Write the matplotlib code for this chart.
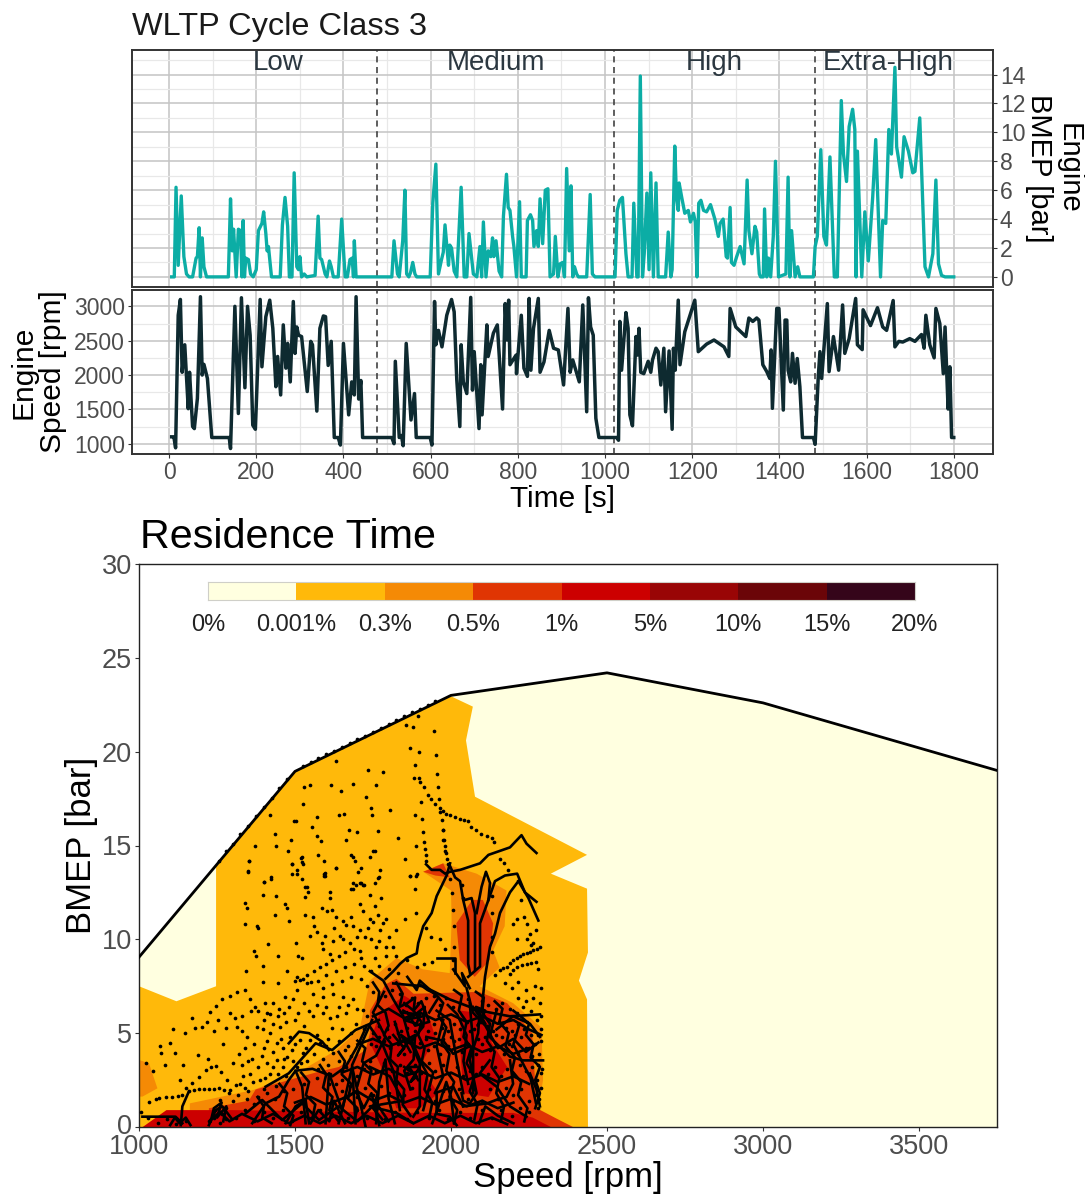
import matplotlib
matplotlib.use("Agg")
import matplotlib.pyplot as plt
from matplotlib.ticker import MultipleLocator

plt.rcParams['font.family'] = ['Liberation Sans', 'DejaVu Sans']

W, H = 1085, 1194

bmep_trace = [(6,0),(12,0),(16,6.2),(21,.8),(28,5.6),(34,1.4),(40,.2),(46,0),(54,0),(62,1.3),(65,1.4),(69,3.4),(72,0),(76,2.7),(80,.7),(86,0),(136,0),(141,5.4),(145,1.8),(148,3.3),(154,0),(159,3.3),(164,3.2),(167,0),(170,3.9),(173,0),(176,1.3),(182,1.2),(187,.2),(193,0),(200,.5),(205,3.2),(213,3.7),(217,4.5),(222,3),(225,1.8),(228,2.1),(235,0),(255,0),(260,3.6),(266,5.5),(272,3.5),(276,0),(282,0),(287,7.2),(293,.7),(297,.5),(300,1.4),(304,0),(310,.2),(316,0),(335,.1),(342,4.2),(346,1.3),(350,1.2),(358,.2),(362,0),(368,1.1),(372,.7),(377,0),(388,0),(396,4),(401,1.4),(404,0),(409,0),(415,1.2),(420,1.3),(423,0),(425,2.5),(429,0),(511,0),
(516,2.5),(524,.2),(528,0),(536,2.5),(541,6),(545,.2),(550,0),(554,.3),(559,1),(564,.2),(568,0),(599,0),(605,5.1),(612,7.8),(618,.2),(625,1.2),(629,1.7),(633,3.6),(641,.8),(644,2.2),(648,2),(654,.4),(660,0),(670,6.2),(677,0),(683,0),(688,3),(694,1.3),(698,.2),(706,0),(713,2.1),(717,0),(721,3.8),(727,0),(732,1.8),(738,1.4),(742,2.7),(745,1.4),(750,2.5),(757,.4),(763,0),(767,4.2),(774,7.1),(778,4.8),(782,4.6),(788,2.8),(791,2.1),(797,0),(804,5.2),(808,0),(819,0),(822,3.9),(829,4.3),(834,3.9),(837,2.1),(843,3.2),(847,2.1),(851,5.4),(857,2.3),(863,6),(869,6.1),(874,0),(882,.2),(886,2.8),(892,0),(897,.9),(903,1),(907,0),(912,7.5),(918,1.8),(922,6.3),(926,0),(930,.7),(935,.2),(939,0),(958,0),(966,5.7),(971,.2),(977,0),(1023,0),
(1028,4.6),(1034,5.3),(1040,5.5),(1048,1.6),(1053,0),(1062,0),(1066,5.1),(1073,0),(1076,0),(1081,13.9),(1086,0),(1090,1.6),(1096,5.8),(1101,.5),(1105,7.2),(1111,0),(1117,6.5),(1122,0),(1139,0),(1145,3.1),(1151,0),(1154,.5),(1160,9.05),(1164,5.5),(1168,4.6),(1170,6.5),(1176,5.5),(1183,4.4),(1191,4.6),(1196,3.8),(1203,4.4),(1207,3.8),(1211,0),(1215,5.1),(1220,5.3),(1226,4.6),(1233,4.5),(1242,5),(1252,4),(1260,2.8),(1264,3.7),(1271,4),(1278,1.4),(1281,1.3),(1287,4.8),(1290,1),(1296,.8),(1302,1.4),(1310,2.1),(1319,.9),(1326,6.7),(1330,3.2),(1337,1.6),(1344,3.5),(1348,3.1),(1354,.2),(1357,0),(1363,0),(1366,4.7),(1371,0),(1375,1.3),(1380,0),(1386,2.8),(1391,8),(1398,0),(1415,.2),(1420,6.9),(1424,0),(1428,3.2),(1436,0),(1442,.7),(1447,0),(1478,0),
(1482,2.1),(1487,2.8),(1495,8.8),(1502,2.8),(1508,2.2),(1516,8.3),(1526,0),(1533,0),(1542,12.2),(1547,8.5),(1554,6.6),(1560,10.4),(1568,11.6),(1573,10.2),(1576,0),(1579,8.7),(1589,0),(1596,4.5),(1604,1.1),(1614,5.5),(1621,9.5),(1632,0),(1637,3.9),(1644,3.7),(1651,10.2),(1657,8.5),(1665,14.5),(1669,9),(1680,6.9),(1686,9.7),(1696,8.7),(1706,7.2),(1711,7.3),(1722,11),(1734,.7),(1742,0),(1752,1.6),(1759,6.7),(1765,.9),(1772,.1),(1780,0),(1800,0)]

speed_trace = [(6,1100),(11,1100),(15,940),(21,2870),(26,3100),(30,2040),(36,2440),(44,1510),(47,2040),(54,1250),(58,1220),(65,1660),(72,3140),(76,2000),(80,2155),(88,1950),(98,1090),(138,1090),(141,930),(151,3000),(159,1440),(166,3125),(174,1815),(180,3000),(186,2580),(192,1270),(198,1210),(209,3100),(213,2120),(222,2850),(231,3090),(238,2680),(245,1830),(249,2270),(256,1710),(262,2730),(268,2100),(272,2460),(278,1900),(285,3070),(289,2315),(293,2700),(297,2580),(304,2560),(317,1760),(325,2490),(329,2440),(339,1475),(346,2680),(354,2860),(359,2850),(365,2140),(372,2490),(379,1090),(388,1090),(393,980),(400,2460),(412,1420),(419,1900),(425,1710),(429,3140),(435,1650),(440,1920),(444,1090),(511,1090),(516,1000),(519,2200),(528,1090),(533,1120),(537,970),(544,2460),(555,1345),(563,1730),(567,1090),(599,1090),(603,980),(609,3070),(612,2440),(618,2650),(626,2410),(637,2870),(648,3100),(654,2920),(660,1930),(667,1250),(670,2440),(675,1900),(683,1730),(692,3130),(696,1780),(700,2340),(711,1220),(715,2150),(718,1420),(729,2730),(732,2270),(744,2610),(753,2730),(765,1505),(771,3040),(775,2510),(779,3090),(782,2150),(796,2290),(797,2020),(801,2340),(808,2870),(814,2100),(822,1980),(826,3115),(830,2070),(836,2680),(847,3115),(851,2040),(860,2190),(872,2650),(882,2390),(893,2365),(905,1855),(915,2970),(920,2040),(926,2220),(941,1900),(949,3020),(958,1465),(962,3125),(967,2700),(973,2580),(979,1370),(986,1090),(1027,1090),(1031,1050),
(1034,2780),(1038,2070),(1048,2910),(1053,2680),(1057,1420),(1063,1260),(1071,2560),(1074,2290),(1078,2680),(1082,2040),(1089,2020),(1099,2200),(1105,2040),(1109,2220),(1117,2390),(1122,2340),(1128,1855),(1135,2390),(1139,1465),(1147,2350),(1154,1210),(1157,2390),(1161,2070),(1168,3090),(1172,2150),(1183,2630),(1206,3090),(1214,2340),(1233,2450),(1250,2510),(1273,2410),(1284,2270),(1287,2970),(1300,2700),(1323,2560),(1330,2830),(1339,2780),(1348,2830),(1353,2800),(1362,2150),(1371,2050),(1378,1950),(1381,2365),(1384,1515),(1394,2970),(1399,2970),(1409,1490),(1413,2800),(1417,2800),(1420,2070),(1426,1900),(1430,2315),(1436,1880),(1441,2240),(1447,1830),(1453,1090),(1478,1090),(1482,990),(1489,1950),(1493,2340),(1497,1950),(1510,3040),(1514,2050),(1524,2560),(1536,2070),(1545,3020),(1550,2315),(1560,2530),(1575,3115),(1579,2440),(1590,2370),(1592,2950),(1609,2720),(1625,2980),(1637,2700),(1646,2650),(1661,3085),(1665,2410),(1674,2490),(1683,2480),(1699,2530),(1711,2490),(1726,2590),(1732,2390),(1736,2870),(1745,2440),(1755,2250),(1759,2970),(1768,2750),(1776,2020),(1780,2700),(1787,1505),(1791,2120),(1795,1090),(1800,1090)]

phase_bounds = [476, 1021, 1482]
phase_names = ["Low", "Medium", "High", "Extra-High"]
phase_centres = [250, 750, 1250, 1650]

full_load_speed = [1000, 1500, 2000, 2500, 3000, 3750]
full_load_bmep = [9.05, 18.95, 23, 24.2, 22.6, 19]

legend_labels = ["0%", "0.001%", "0.3%", "0.5%", "1%", "5%", "10%", "15%", "20%"]
legend_colors = ["#FFFFE0", "#FFB90A", "#F58A05", "#E03503", "#CC0000", "#990505", "#6B0508", "#35051A"]

zone_cream = [(1000,0),(1000,9.05),(1500,18.95),(2000,23),(2500,24.2),(3000,22.6),(3750,19),(3750,0)]
zone_001 = [(1000,0),(1000,7.5),(1120,6.7),(1247,7.5),(1247,13.9),(1500,18.95),(2000,22.95),(2070,22.4),(2048,20.6),(2077,17.6),(2436,14.5),(2320,13.5),(2436,12.7),(2439,9.3),(2410,7.8),(2436,6.8),(2439,0)]
zone_03_a = [(1163,0),(1163,1.26),(1366,1.97),(1505,2.86),(1633,4.1),(1708,5.26),(1740,7.8),(1825,9),(1910,8.4),(1996,8.2),(2002,11),(2000,12.6),(1911,13.6),(1975,14.05),(2082,13.5),(2178,12.6),(2172,10.7),(2135,9.4),(2156,8.5),(2092,7.5),(2199,6.6),(2290,5.3),(2295,2.5),(2279,.9),(2242,0)]
zone_03_b = [(1000,3.57),(1032,3.4),(1059,2.06),(1011,1.62),(1000,1.62)]
zone_05_a = [(1224,0),(1224,1),(1352,1.4),(1374,2),(1480,2.5),(1577,2.95),(1641,3.2),(1726,4.1),(1740,5),(1740,6.2),(1790,7.6),(1825,7.9),(1880,7.1),(2090,7.2),(2180,6.6),(2260,5),(2275,1),(2338,.45),(2391,0)]
zone_05_b = [(2017,10.85),(2068,12.1),(2102,12.1),(2135,10.85),(2124,8.9),(2076,8),(2028,8.9)]
zone_05_c = [(1911,13.6),(1975,14.05),(1996,13.3),(1950,13.4)]
zone_1_band = [(1012,0),(1088,.9),(1300,.9),(1900,.75),(2200,.75),(2262,.5),(2320,0)]
zone_1_a = [(1770,6),(1850,7),(1920,6.3),(1950,4.8),(1900,3.2),(1960,1.8),(1900,1),(1825,1),(1790,2.7),(1740,4.5)]
zone_1_b = [(2030,6.2),(2130,6),(2130,4.5),(2180,3.2),(2120,1.6),(2040,1.8),(2030,4)]

dots_upper = [(1894,21.9),(1855,21.4),(1879,21.3),(1947,21.1),(1870,20.2),(1898,20),(1951,19.8),(1885,19.3),(1631,19.5),(1734,19),(1782,18.9),(1954,18.8),(1883,18.6),(1898,18.6),(1902,18.4),(1913,18.1),(1925,17.7),(1937,17.5),(1950,17.2),(1964,17),(1975,16.85),(1985,16.7),(1998,16.6),(2012,16.5),(2028,16.4),(2041,16.35),(2055,16.3),(2065,16),(2079,15.8),(2097,15.6),(2114,15.5),(2130,15.4),(2138,15.2),(1958,18.1),(1960,17.5),(1905,17.3),(1966,16.8),(1970,16.35),(1975,15.8),(1978,15.3),(1980,15),(1983,14.6),(1987,14.3),(1886,16.6),(1907,16.4),(1911,15.7),(1913,15.2),(1889,15),(1917,14.8),(1919,14.5),(1921,14.2),
(1528,18.1),(1547,18.2),(1616,18.2),(1649,17.9),(1686,18.3),(1759,18.2),(1729,17.6),(1526,17.2),(1745,17),(1806,16.9),(1569,16.5),(1641,16.6),(1656,16.7),(1747,16.6),(1421,16.6),(1498,16.3),(1503,16.3),(1553,16),(1672,15.8),(1699,15.7),(1766,15.75),(1437,15.6),(1487,15.3),(1572,15.5),(1583,15.25),(1663,15.3),(1830,15.4),(1373,15),(1440,15),(1476,14.7),(1574,14.5),(1679,14.5),(1685,14.4),(1693,14.2),(1750,14.7),(1757,14.7),(1741,14.4),(1851,14.3),(1520,14.35),(1524,14.1),(1592,14.2),(1354,14.2),(1349,13.6),(1490,14),(1489,13.5),(1506,13.7),(1632,13.8),(1711,13.8),(1702,13.6),(1772,13.7),(1593,13.5),(1593,13.4),(1869,13.4),(1891,13.5),(1768,13.3),(1423,13.3),(1401,13.05),(1524,13.2),(1538,12.8),(1686,13),(1695,12.9),(1713,13),(1721,12.9),(1756,13),(1680,12.7),(1886,12.7)]
dots_load_line = [(1255,14.2),(1280,14.7),(1300,15.1),(1325,15.6),(1350,16.05),(1375,16.55),(1400,17.05),(1425,17.55),(1450,18.05),(1475,18.55),(1525,19.25),(1550,19.45),(1575,19.65),(1600,19.85),(1625,20.05),(1650,20.25),(1675,20.45),(1700,20.65),(1725,20.85),(1750,21.05),(1775,21.25),(1800,21.5),(1825,21.7),(1850,21.9),(1875,22.1),(1900,22.3),(1925,22.5),(1950,22.7)]
dots_right = [(2157,14.3),(2170,14.05),(2184,13.7),(2223,12.1),(2234,11.2),(2242,10.8),(2253,10.3),(2274,10.5),(2264,9.8),(2210,10),(2200,10.8),(2210,11.1),(2280,8.4),(2242,10),(2258,9.7),(2285,9.6),(2264,9.45),(2242,9.25),(2221,9.1),(2200,8.9),(2178,8.55),(2157,8.35),(2141,8.1),(2274,8.8),(2242,8.7),(2210,8.55),(2189,8.15),(2173,7.65),(2275,9.5),(2253,9.35),(2232,9.2),(2210,9),(2189,8.75),(2167,8.45),(2258,8.75),(2226,8.65),(2199,8.35),(1973,15.8),(1975,15.3),(1981,14.7),(1991,14),(1997,13.2),(2002,12.45),(2007,11.55),(2010,10.7),(2011,9.6),(2007,8.9),(2034,12.9),(2037,12.2),(2130,12.3),(2132,11.4),(2133,10.1),(2130,9.3),(2290,7.4),(2270,7.5),(2240,7.3),(2215,7.7),(2195,7.4)]
dots_mid = [(1339,11.95),(1345,11.65),(1339,10.8),(1377,10.7),(1382,10.6),(1415,9.75),(1368,9.4),(1375,9.1),(1398,8.6),(1343,8.3),(1396,12.35),(1422,13.2),(1402,13.05),(1348,13.65),(1353,14.2),(1439,12.3),(1436,11.3),(1468,11.9),(1475,11.65),(1480,11),(1503,9.8),(1511,9.1),(1521,9),(1446,9.1),(1473,8.3),(1505,8),(1500,7.8),(1491,14),(1505,13.5),(1521,14.4),(1526,14),(1596,13.55),(1596,13.35),(1633,13.8),(1532,12.8),(1542,12.5),(1532,12.25),(1612,12.5),(1612,12.2),(1588,11.65),(1601,11.5),(1617,11.55),(1633,11.2),(1558,11.2),(1560,10.7),(1532,11.3),(1548,10.2),(1585,9.8),(1590,9.5),(1612,9.2),(1622,9.9),(1644,10.2),(1654,10),(1676,9.8),(1708,9.4),(1713,9),(1665,10.75),(1687,10.7),(1708,10.5),(1735,10.6),(1719,11.5),(1740,11.1),(1767,11.3),(1783,10.85),(1793,11.1),(1772,10.5),(1745,10),(1761,9.6),(1793,9.6),(1825,10.5),(1852,11.1),(1793,9.1),(1825,9.1),(1756,9),(1687,12.7),(1708,13),(1719,12.9),(1767,13.25),(1740,12.35),(1756,11.75),(1777,12.2),(1708,11.9),(1889,13.4),(1868,13.4),(1889,11.4),(1921,10.6),(1937,10.15),(1980,9.5),(1964,10),
(1570,10.4),(1595,10.2),(1625,10.6),(1655,11),(1680,11.2),(1700,10.1),(1725,10.1),(1750,10.9),(1770,9.9),(1800,10.1),(1815,9.6),(1690,9.5),(1660,9.3),(1640,9.1),(1620,8.9),(1600,8.7),(1580,8.5),(1560,8.3),(1540,8.1),(1525,7.9),(1575,7.8),(1600,8.1),(1630,8.3),(1660,8.5),(1690,8.7),(1720,8.6),(1745,8.3),(1770,8.6),(1800,8.4),(1830,8.2),(1860,8.9),(1890,8.5),(1915,8.7),(1940,8.8),(1550,7.7),(1590,7.4),(1620,7.6),(1650,7.8),(1680,8),(1710,7.9),(1730,7.5)]
dots_low = [(1110,5.2),(1147,5),(1169,5.8),(1201,5.35),(1217,5.6),(1227,6.15),(1254,5.7),(1291,7),(1339,7.3),(1313,7.2),(1265,6.8),(1247,6.45),(1355,6.8),(1382,6.2),(1371,6.4),(1403,6.6),(1430,6.6),(1446,7.65),(1398,7.75),(1452,5.35),(1468,6.95),(1494,6.8),(1505,7.3),(1516,7.85),(1537,7.65),(1558,7.1),(1590,6.95),(1622,7.1),(1654,6.95),(1687,6.8),(1719,6.25),(1558,5.9),(1590,6.05),(1612,5.8),(1665,6.05),(1697,5.5),(1291,6.05),(1307,5.8),(1313,5.35),(1345,4.8),(1377,5.35),(1398,5.2),(1420,5),(1441,4.45),(1484,4.8),(1516,4.65),(1548,4.65),(1580,4.45),(1099,4.45),(1067,4.3),(1072,3.95),(1083,3.3),(1115,3.95),(1142,3.3),(1190,3.85),(1222,3.6),(1270,4.4),(1131,2.5),(1024,3.4),(1046,3),(1361,3.65),(1382,3.2),(1409,3.4),(1420,2.85),(1334,2.7),(1323,2.3),(1355,2.85),(1388,2.5),(1291,1.95),(1259,1.45),(1243,.9),(1473,3.75),(1505,3.2),(1526,3.95),(1590,3.6),(1622,3.95),(1665,3.2),(1612,2.85),(1462,3.2),(1441,3.55),
(1330,5.9),(1360,6.2),(1420,6),(1450,6.3),(1480,6.4),(1530,6.6),(1570,6.5),(1640,6.4),(1700,6.3),(1430,5.5),(1470,5.6),(1500,5.7),(1530,5.4),(1620,5.3),(1650,5.2),(1680,5),(1730,5.9),(1340,4.2),(1370,4.4),(1400,4.2),(1430,4),(1460,4.2),(1490,4.1),(1520,3.4),(1560,3.9),(1600,4.3),(1640,3.5),(1680,3.8),(1710,4.5),(1300,3.4),(1330,3.3),(1350,1.9),(1380,1.6),(1400,2),(1440,2.2),(1470,2.7),(1300,1.4),(1280,1),(1265,.7),(1240,.5),(1225,.3),(1005,.82),(1032,1.35),(1053,1.5),(1064,1.53),(1085,1.58),(1107,1.62),(1125,1.66),(1139,1.7),(1150,2.06),(1171,2.33),(1192,2.68),(1214,3.04),(1230,3.2),(1246,3.25),(1262,2.95),(1283,2.5),(1310,2.24),(1160,1.94),(1176,1.97),(1192,2),(1208,2),(1224,2),(1240,2.05),(1256,2.1),(1272,1.95),(1288,1.8),
(1180,5.3),(1240,5.1),(1280,5.3),(1330,5.1),(1400,5.7),(1410,6.1),(1445,5.9),(1465,6.1),(1510,6.1),(1545,6.2),(1600,6.4),(1635,5.9),(1670,6.5),(1410,4.6),(1455,4.7),(1500,4.4),(1535,4.2),(1570,4.9),(1605,4.7),(1640,4.6),(1670,4.3),(1720,5.2),(1320,3.9),(1350,3.5),(1395,3.8),(1430,3.2),(1465,3.6),(1495,3.5),(1540,3.5),(1575,3.1),(1605,3.3),(1660,4.1),(1365,2.4),(1405,2.6),(1445,2.8),(1340,2.1),(1318,1.7),(1345,1.5),(1370,1.2),(1410,1.8),(1435,1.5),(1465,1.9),(1495,2),(1530,2.3),(1570,2.6),(1610,2.3),(1650,2.5)]
dots_dense = [(1750,7.2),(1770,6.9),(1790,7),(1810,7.3),(1835,7.1),(1855,6.5),(1875,6.9),(1895,6.6),(1920,6.9),(1945,7),(1965,6.5),(1985,6.9),(2005,6.4),(2030,6.6),(2055,6.8),(2075,6.3),(2100,6.7),(2120,6.5),(2145,6.3),(2165,6.6),(2190,6.3),(2210,6.1),(2230,6.4),(2255,6.2),(2275,5.7),(2290,5.2),(2280,4.9),(2290,4.6),(2270,4.4),(2255,4.9),(2235,5.2),(2215,5.5),(2195,5.1),(2175,5.3),(2155,5.6),(2135,5.1),(2115,5.4),(2095,5.6),(2075,5.2),(2050,5.6),(2030,5.2),(2010,5.5),(1990,5.1),(1970,5.3),(1945,5.5),(1925,5.1),(1905,5.4),(1885,5.1),(1860,5.3),(1840,5.1),(1820,5.5),(1795,5.2),(1770,5.4),(1750,5),
(1760,4.3),(1785,4.6),(1805,4.2),(1830,4.4),(1850,3.9),(1880,4.2),(1900,4.5),(1925,4.1),(1945,4.3),(1965,3.9),(1990,4.3),(2010,4.6),(2035,4),(2055,4.4),(2080,3.9),(2100,4.4),(2125,4.1),(2150,4.3),(2170,3.9),(2195,4.3),(2215,3.9),(2240,4.2),(2260,3.8),(2280,3.3),(2290,2.9),(2275,2.5),(2260,3.2),(2240,3),(2220,3.3),(2200,2.8),(2180,3.1),(2160,2.7),(2140,3.2),(2120,2.8),(2100,3.2),(2080,2.8),(2060,3),(2040,2.7),(2020,3.2),(1995,2.8),(1975,3.3),(1950,3),(1930,3.4),(1905,2.9),(1885,3.3),(1860,2.9),(1835,3.3),(1810,3),(1785,3.4),(1760,3),(1740,3.5),(1720,3.1),(1700,2.7),(1675,2.2),
(1650,1.9),(1630,2.3),(1700,1.6),(1725,2.1),(1750,1.7),(1775,2.2),(1800,1.8),(1825,2.3),(1850,1.7),(1875,2.1),(1900,1.6),(1930,2),(1950,1.4),(1975,1.9),(2005,1.4),(2025,2),(2055,1.5),(2075,2),(2100,1.4),(2125,2),(2150,1.5),(2175,2.1),(2200,1.7),(2225,2),(2250,1.4),(2270,1.7),(2280,1),(2250,.8),(2220,1),(2195,.6),(2160,.9),(2130,.5),(2100,.9),(2060,.5),(2030,.8),(1990,.4),(1960,.9),(1930,.5),(1890,.8),(1860,.4),(1820,.8),(1790,.4),(1760,.9),(1730,.5),(1700,.9),(1670,.5),(1640,.8),(1610,.4),(1580,.9),(1550,.5),(1520,.8),(1490,.3),(1460,.9),(1430,.5),(1400,.8),(1370,.3),(1340,.9),(1310,.5),(1280,.4),(1260,.2),(1150,.3),(1120,.15),(1090,.4),(1060,.2),(1030,.5),
(2285,6.6),(2262,6.9),(2240,6.7),(2215,6.9),(2290,5.9),(2283,3.9),(2293,3.1),(2288,2.1),(2283,1.5),(2245,5.6),(2225,4.8),(2205,4.9),(2185,4.4),(2165,4.8),(2145,4.9),(2110,4.8),(2085,4.7),(2060,5.1),(2025,4.7),(2000,4.8),(1975,4.7),(1950,5),(1920,4.7),(1875,4.7),(1830,5),(1800,4.8),(1770,4.8),(1745,4.4)]

traces = [
 [(1920,14),(1938,13.7),(1965,13.7),(1981,13.5),(1997,13.6),(2029,13.7),(2093,14.05),(2120,14.5),(2189,14.9),(2226,15.55),(2242,15.1),(2274,14.6)],
 [(1997,14.05),(1986,13.4),(1954,12.3),(1938,11.4),(1911,10.7),(1895,9.8),(1890,9.25),(1858,9),(1837,8.7),(1815,8.3),(1790,7.9)],
 [(1997,13.9),(2013,13.3),(2029,13.1),(2039,12.1),(2055,11),(2055,8.7),(2061,8.2)],
 [(2045,12.1),(2066,12.2),(2077,11.4),(2077,8.7),(2077,8.4)],
 [(2082,11.4),(2098,12.8),(2112,13.6),(2125,13),(2120,12.1),(2093,10.85),(2093,8.55),(2055,8)],
 [(2120,12.1),(2141,13.1),(2173,13.4),(2212,13.5),(2237,12.5),(2274,12)],
 [(2216,13.1),(2189,12.5),(2157,11.4),(2141,10.3),(2125,9.6),(2109,8),(2098,6.2)],
 [(2216,13.1),(2248,12.2),(2264,11.6),(2280,11)],
 [(1954,9),(2013,9),(2013,8.2)],
 [(2007,8.4),(2045,7.5),(2035,8.2),(2060,7.4)],
 [(1740,8.3),(1783,7.8),(1815,6.8),(1847,5.9),(1868,4.6),(1900,3.4),(1900,1.1),(1879,.55)],
 [(1815,7.65),(1911,7.5),(1996,6.8),(2092,6.2),(2189,5.9),(2285,6)],
 [(1847,6.2),(1879,5.9),(1916,6.4),(1911,5.35),(1874,4.6),(1900,3.6),(1943,2.9),(1911,.9)],
 [(2092,6.2),(2087,5),(2060,3.6),(2082,1.8),(2060,1.25),(2039,1.4),(2034,1.8)],
 [(2146,5.2),(2199,5.9),(2253,5.5),(2285,4.8)],
 [(1740,5.35),(1783,4.3),(1815,3),(1825,2.15),(1836,.9)],
 [(1954,6.2),(1996,5.7),(2018,3.6),(2039,1.8)],
 [(1975,5.7),(1954,4.3),(1975,2.7),(1948,1.8),(2007,2.15),(2039,1.1)],
 [(2146,6.2),(2124,4.8),(2189,3.75),(2231,3.55),(2295,3.55)],
 [(2189,3.55),(2199,2.3),(2178,1.6),(2146,1.45),(2114,1.25),(2039,1.1)],
 [(2253,2.85),(2274,2),(2285,1.1)],
 [(1740,3.2),(1804,2.7),(1847,1.4),(1740,1.1),(1825,.75),(1879,.2)],
 [(2060,6.6),(2071,4.45),(2071,1.8)],
 [(1921,4.8),(1975,4.6),(2007,3.9),(2060,4.3)],
 [(2124,3.55),(2092,2.85),(2146,2.15),(2189,1.1),(2242,.55)],
 [(1954,1.8),(1954,.7),(1996,.55),(2018,.1)],
 [(1850,6.6),(1880,6.2),(1905,6.7),(1930,5.6),(1885,5.4),(1860,6.1)],
 [(1840,6.1),(1900,6),(1890,5.5),(1850,5.7),(1910,5.9)],
 [(1011,.55),(1053,.55),(1117,.55),(1139,.2)],
 [(1134,.1),(1139,1.1),(1160,1.9)],
 [(1224,.1),(1246,.9),(1267,1.1),(1299,.4)],
 [(1363,.2),(1406,1.26),(1449,1.62),(1480,2.5),(1502,3),(1523,2.15),(1534,.2)],
 [(1406,2.15),(1480,2.86),(1566,4.46),(1619,4.1),(1694,5.17),(1769,5.7)],
 [(1598,.2),(1609,2.86),(1651,.9),(1683,3.2),(1726,.03)],
 [(1747,5.7),(1683,3.3),(1694,.2)],
 [(1480,4.46),(1513,5.08),(1545,5),(1587,4.55),(1609,4.1)],
 [(1342,.73),(1395,1.44),(1459,.37),(1523,1.26),(1577,.37),(1640,1.1),(1700,.3),(1760,1.3),(1800,.3)],
 [(1470,.2),(1502,1.1),(1534,1.44),(1545,.2)],
 [(1502,3),(1556,3.1),(1620,2.7),(1662,3.2),(1703,4.4),(1730,5.4)],
 [(1760,.2),(1770,2.4),(1790,3.6),(1800,1.5),(1820,.2)],
 [(1700,2.2),(1720,3.4),(1760,3.8),(1790,4.8),(1750,6.1),(1785,7.2)],
 [(1940,.2),(1960,1.1),(1985,2.4),(2000,1.6),(2010,.2)],
 [(2090,.2),(2110,1.1),(2150,.6),(2200,.2)],
 [(1640,.2),(1660,1.5),(1695,1.9),(1720,1),(1745,1.8),(1770,.1)],
 [(1820,5.6),(1840,4.5),(1885,4.9),(1880,3.6),(1850,3),(1870,2)],
 [(1990,6.5),(2020,6),(2050,4.9),(2040,3.5),(2055,2.3)],
 [(1860,8),(1890,7.3),(1900,7.8),(1960,6.9),(1930,6.1)],
 [(2050,7.4),(2070,6.1),(2110,5.4),(2150,4.2),(2200,4.7),(2240,4),(2280,4.5)],
 [(2220,5.5),(2200,4.4),(2230,3.4),(2255,2.6),(2272,1.3)],
 [(1550,.2),(1575,.9),(1610,.3),(1625,1.4),(1660,.2)],
 [(1750,7.7),(1770,7.2),(1765,6.5),(1790,6.1),(1800,5.4),(1785,4.9),(1810,4.4),(1805,3.6),(1830,3.2),(1825,2.5),(1850,2),(1845,1.2),(1870,.6)],
 [(1825,7.7),(1845,7.1),(1835,6.4),(1860,6.6),(1885,6.9),(1880,6.2),(1905,5.6),(1895,4.9),(1915,4.2),(1905,3.4),(1925,2.8),(1915,2),(1940,1.3),(1930,.5)],
 [(1900,7.6),(1925,7.3),(1950,7.1),(1975,6.6),(1960,5.9),(1985,5.3),(1970,4.5),(1995,3.9),(1985,3),(2010,2.4),(1995,1.6),(2020,.9),(2010,.2)],
 [(2010,7.3),(2035,7),(2025,6.2),(2050,5.6),(2040,4.8),(2065,4.2),(2050,3.4),(2075,2.7),(2060,1.9),(2085,1.2),(2075,.4)],
 [(2080,7.2),(2105,6.9),(2100,6.1),(2125,5.5),(2115,4.6),(2140,4),(2130,3.2),(2155,2.6),(2145,1.8),(2170,1.1),(2160,.3)],
 [(2140,6.7),(2165,6.3),(2155,5.6),(2185,5),(2175,4.3),(2205,3.7),(2195,3),(2225,2.4),(2215,1.7),(2245,1),(2235,.3)],
 [(2200,6.2),(2230,5.8),(2250,5.5),(2240,4.9),(2265,4.4),(2255,3.7),(2285,3.2),(2270,2.5),(2285,1.8),(2270,1)],
 [(1700,4.6),(1725,4.2),(1715,3.5),(1745,3),(1735,2.3),(1765,1.8),(1750,1),(1780,.4)],
 [(1640,4),(1660,3.5),(1650,2.8),(1680,2.3),(1670,1.5),(1700,1),(1690,.3)],
 [(1580,3.3),(1600,2.8),(1590,2.1),(1620,1.6),(1610,.9),(1640,.3)],
 [(1520,2.9),(1545,2.4),(1535,1.7),(1565,1.2),(1555,.4)],
 [(1450,2.3),(1475,1.8),(1465,1.1),(1495,.6),(1485,.1)],
 [(1380,1.6),(1400,1.1),(1395,.5),(1425,.2)],
 [(1750,5.9),(1800,6.3),(1850,5.8),(1900,6.1),(1950,5.7),(2000,6),(2050,5.6),(2100,5.9),(2150,5.5),(2200,5.7),(2250,5.2),(2290,4.9)],
 [(1700,4.4),(1750,4.7),(1800,4.3),(1850,4.6),(1900,4.2),(1950,4.5),(2000,4.1),(2050,4.4),(2100,4),(2150,4.3),(2200,3.9),(2250,4.2)],
 [(1650,2.9),(1700,3.2),(1750,2.8),(1800,3.1),(1850,2.7),(1900,3),(1950,2.6),(2000,2.9),(2050,2.5),(2100,2.8),(2150,2.4),(2200,2.7),(2250,2.3)],
 [(1500,1.3),(1550,1.6),(1600,1.2),(1650,1.5),(1700,1.9),(1750,1.4),(1800,1.7),(1850,1.3),(1900,1.6),(1950,1.2),(2000,1.5),(2050,1.1),(2100,1.4),(2150,1),(2200,1.3)],
 [(1230,.4),(1260,.8),(1290,.3),(1330,.7),(1380,.3),(1430,.7),(1480,.2),(1530,.6),(1580,.2),(1630,.6),(1680,.2),(1730,.6),(1780,.2),(1830,.6),(1880,.2),(1930,.6),(1980,.2),(2030,.6),(2080,.2),(2130,.5),(2180,.15)],
 [(1230,.3),(1240,1),(1265,1.3),(1250,.5),(1280,1.1),(1270,.3)],
 [(1100,.1),(1115,.5),(1130,.2),(1150,.5),(1165,.1)],
 [(1815,4.9),(1850,4.2),(1830,3.8),(1865,4.6),(1840,4.9),(1870,4)],
 [(2070,6.4),(2100,5.7),(2085,5.4),(2110,6.2),(2080,6.4),(2110,5.5)],
 [(1850,3.2),(1890,2.7),(1870,2.4),(1900,3.2),(1865,3.2),(1895,2.5)],
]

all_dots = dots_upper + dots_load_line + dots_right + dots_mid + dots_low + dots_dense


def rect(x0, y0, x1, y1):
    return [x0 / W, 1 - y1 / H, (x1 - x0) / W, (y1 - y0) / H]


fig = plt.figure(figsize=(W / 100, H / 100), dpi=100, facecolor="white")

GREY = "#4D4D4D"
FRAME = "#333333"


def style_cycle_axis(ax, ymajor, yminor):
    ax.set_facecolor("white")
    ax.set_xlim(-85, 1890)
    ax.xaxis.set_major_locator(MultipleLocator(200))
    ax.xaxis.set_minor_locator(MultipleLocator(100))
    ax.yaxis.set_major_locator(MultipleLocator(ymajor))
    ax.yaxis.set_minor_locator(MultipleLocator(yminor))
    ax.grid(True, which="major", color="#C4C4C4", lw=1.1)
    ax.grid(True, which="minor", color="#E8E8E8", lw=0.9)
    ax.set_axisbelow(True)
    ax.tick_params(which="minor", length=0)
    ax.tick_params(which="major", length=3, color=FRAME, labelcolor=GREY, labelsize=16.5, pad=2)
    for s in ax.spines.values():
        s.set_color(FRAME)
        s.set_linewidth(1.4)
    for b in phase_bounds:
        ax.axvline(b, color="#333333", lw=1.1, ls=(0, (4, 3)), zorder=2)


ax1 = fig.add_axes(rect(132, 50, 993, 287))
style_cycle_axis(ax1, 2, 1)
ax1.set_ylim(-0.7, 15.7)
ax1.plot([p[0] for p in bmep_trace], [p[1] for p in bmep_trace], color="#0CADA5", lw=2.4, zorder=3)
ax1.yaxis.tick_right()
ax1.tick_params(axis="x", which="both", length=0, labelbottom=False)
for name, c in zip(phase_names, phase_centres):
    ax1.text(c, 14.8, name, ha="center", va="center", fontsize=20, color="#2B3740", zorder=4)

ax2 = fig.add_axes(rect(132, 290, 993, 454))
style_cycle_axis(ax2, 500, 250)
ax2.set_ylim(850, 3238)
ax2.plot([p[0] for p in speed_trace], [p[1] for p in speed_trace], color="#0E2A30", lw=2.5, zorder=3)

fig.text(132 / W, 1 - 27 / H, "WLTP Cycle Class 3", fontsize=23.4, color="#1A1A1A", ha="left", va="center")
fig.text(563 / W, 1 - 499 / H, "Time [s]", fontsize=21.5, color="black", ha="center", va="center")
fig.text(38 / W, 1 - 372 / H, "Engine\nSpeed [rpm]", fontsize=21.5, color="black", rotation=90,
         ha="center", va="center", linespacing=1.05, multialignment="center")
fig.text(1054 / W, 1 - 168 / H, "Engine\nBMEP [bar]", fontsize=21, color="black", rotation=270,
         ha="center", va="center", linespacing=1.05, multialignment="center")

ax3 = fig.add_axes(rect(139, 564, 997, 1127))
ax3.set_xlim(1000, 3750)
ax3.set_ylim(0, 30)
ax3.set_facecolor("white")
for poly, col in [(zone_cream, legend_colors[0]), (zone_001, legend_colors[1]),
                  (zone_03_a, legend_colors[2]), (zone_03_b, legend_colors[2]),
                  (zone_05_a, legend_colors[3]), (zone_05_b, legend_colors[3]), (zone_05_c, legend_colors[3]),
                  (zone_1_a, legend_colors[4]), (zone_1_b, legend_colors[4]), (zone_1_band, legend_colors[4])]:
    ax3.fill([p[0] for p in poly], [p[1] for p in poly], color=col, lw=0, zorder=1)
ax3.scatter([p[0] for p in all_dots], [p[1] for p in all_dots], s=7, color="black", lw=0, zorder=3)
for tr in traces:
    ax3.plot([p[0] for p in tr], [p[1] for p in tr], color="black", lw=1.9, zorder=4,
             solid_joinstyle="round", clip_on=True)
ax3.plot(full_load_speed, full_load_bmep, color="black", lw=2.0, zorder=5)
ax3.set_xticks([1000, 1500, 2000, 2500, 3000, 3500])
ax3.set_yticks([0, 5, 10, 15, 20, 25, 30])
ax3.tick_params(length=3, color=FRAME, labelcolor=GREY, labelsize=19.5, pad=2)
ax3.get_yticklabels()[0].set_va("center")
for s in ax3.spines.values():
    s.set_color("#222222")
    s.set_linewidth(1.0)

fig.text(140 / W, 1 - 537 / H, "Residence Time", fontsize=29.7, color="black", ha="left", va="center")
fig.text(568 / W, 1 - 1177 / H, "Speed [rpm]", fontsize=25, color="black", ha="center", va="center")
fig.text(81 / W, 1 - 845 / H, "BMEP [bar]", fontsize=25, color="black", rotation=90, ha="center", va="center")

cax = fig.add_axes(rect(208, 582, 915, 600))
for i, col in enumerate(legend_colors):
    cax.bar(i, 1, width=1, align="edge", color=col, lw=0)
cax.set_xlim(0, len(legend_colors))
cax.set_ylim(0, 1)
cax.set_yticks([])
cax.set_xticks(range(len(legend_labels)))
cax.set_xticklabels(legend_labels)
cax.tick_params(axis="x", length=0, labelsize=17, labelcolor="#222222", pad=10)
for s in cax.spines.values():
    s.set_color("#CFCFC8")
    s.set_linewidth(0.8)

fig.savefig("out.png", dpi=100)
